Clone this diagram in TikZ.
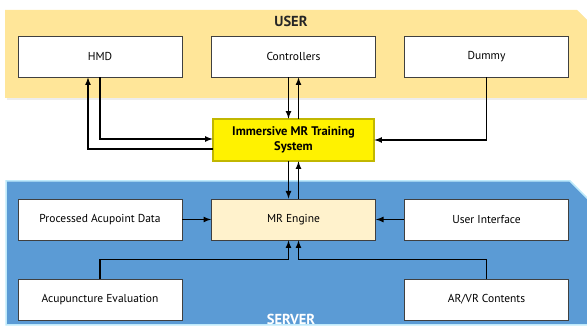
\documentclass[tikz,border=0pt]{standalone}
\usepackage{fontspec}
\setmainfont{PT Sans}
\usetikzlibrary{arrows}
\definecolor{userfill}{HTML}{FFE699}
\definecolor{serverfill}{HTML}{5B9BD5}
\definecolor{enginefill}{HTML}{FFF2CC}
\definecolor{boxline}{HTML}{404040}
\tikzset{
  block/.style={draw=boxline, line width=0.8pt, fill=white, minimum width=164pt, minimum height=41pt, font=\fontsize{11.5}{13}\selectfont},
  flow/.style={->, >=latex, line width=1.6pt}
}
\begin{document}
\begin{tikzpicture}[x=1pt, y=-1pt]
\useasboundingbox (0,0) rectangle (587,328);
% panels
\fill[black!7] (7,12) -- (579,12) -- (592,25) -- (592,100) -- (7,100) -- cycle;
\fill[userfill] (5,10) -- (577,10) -- (590,23) -- (590,98) -- (5,98) -- cycle;
\draw[cyan!25, line width=1.5pt, fill=serverfill] (6,181) -- (570,181) -- (592,203) -- (592,325) -- (6,325) -- cycle;
\node[font=\fontsize{14.5}{16}\selectfont\bfseries, text=black!85] (user) at (291,21) {USER};
\node[font=\fontsize{14.5}{16}\selectfont\bfseries, text=white] (server) at (291,319) {SERVER};
% user side
\node[block] (hmd) at (100,56.5) {HMD};
\node[block] (ctrl) at (293.5,56.5) {Controllers};
\node[block] (dummy) at (486.5,56.5) {Dummy};
% training system
\node[block, fill=yellow, draw=black!75, line width=0.7pt, double=olive!55!yellow, double distance=1.2pt, minimum width=161pt, minimum height=42pt, align=center, font=\fontsize{12.5}{14.5}\selectfont\bfseries] (sys) at (293.5,140) {Immersive MR Training\\System};
% server side
\node[block, fill=enginefill] (eng) at (293.5,219.5) {MR Engine};
\node[block] (proc) at (100,219.5) {Processed Acupoint Data};
\node[block] (ui) at (486.5,219.5) {User Interface};
\node[block] (eval) at (100,299.5) {Acupuncture Evaluation};
\node[block] (arvr) at (486.5,299.5) {AR/VR Contents};
% connectors
\draw[flow] (hmd.south) |- ([yshift=1pt]sys.west);
\draw[flow] ([yshift=-9pt]sys.west) -| ([xshift=-12pt]hmd.south);
\draw[flow] ([xshift=-5pt]ctrl.south) -- ([xshift=-5pt]sys.north);
\draw[flow] ([xshift=5pt]sys.north) -- ([xshift=5pt]ctrl.south);
\draw[flow] (dummy.south) |- (sys.east);
\draw[flow] ([xshift=-5pt]sys.south) -- ([xshift=-5pt]eng.north);
\draw[flow] ([xshift=5pt]eng.north) -- ([xshift=5pt]sys.south);
\draw[flow] (proc.east) -- (eng.west);
\draw[flow] (ui.west) -- (eng.east);
\draw[flow] (eval.north) -- ++(0,-19) -| ([xshift=-5pt]eng.south);
\draw[flow] (arvr.north) -- ++(0,-19) -| ([xshift=5pt]eng.south);
\end{tikzpicture}
\end{document}
